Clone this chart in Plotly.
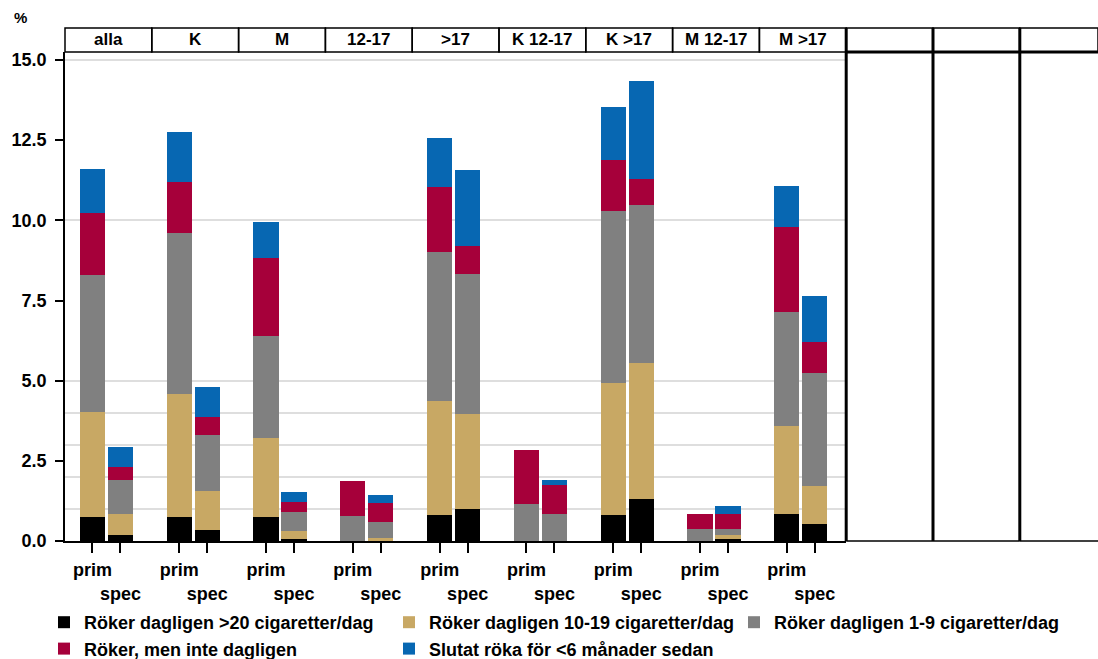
import plotly.graph_objects as go

# panel headers and bar categories
groups = ["alla", "K", "M", "12-17", ">17", "K 12-17", "K >17", "M 12-17", "M >17"]
bar_labels = ["prim", "spec"]
n_empty = 3

series_names = [
    "Röker dagligen >20 cigaretter/dag",
    "Röker dagligen 10-19 cigaretter/dag",
    "Röker dagligen 1-9 cigaretter/dag",
    "Röker, men inte dagligen",
    "Slutat röka för <6 månader sedan",
]
series_colors = ["#000000", "#C8A864", "#808080", "#A6003A", "#0767B2"]

# values (%) per group, prim and spec
over20_prim = [0.75, 0.75, 0.74, 0.0, 0.81, 0.0, 0.81, 0.0, 0.83]
over20_spec = [0.19, 0.34, 0.07, 0.0, 0.99, 0.0, 1.30, 0.05, 0.53]
c10_19_prim = [3.26, 3.82, 2.48, 0.0, 3.56, 0.0, 4.11, 0.0, 2.76]
c10_19_spec = [0.64, 1.23, 0.24, 0.08, 2.97, 0.0, 4.24, 0.15, 1.18]
c1_9_prim = [4.28, 5.04, 3.18, 0.78, 4.63, 1.15, 5.36, 0.36, 3.54]
c1_9_spec = [1.07, 1.73, 0.58, 0.50, 4.36, 0.85, 4.93, 0.18, 3.54]
notdaily_prim = [1.93, 1.59, 2.43, 1.10, 2.05, 1.68, 1.59, 0.49, 2.66]
notdaily_spec = [0.42, 0.56, 0.34, 0.61, 0.88, 0.89, 0.82, 0.45, 0.96]
quit_prim = [1.37, 1.55, 1.12, 0.0, 1.51, 0.0, 1.67, 0.0, 1.27]
quit_spec = [0.60, 0.94, 0.31, 0.24, 2.37, 0.17, 3.05, 0.27, 1.43]

prim_vals = [over20_prim, c10_19_prim, c1_9_prim, notdaily_prim, quit_prim]
spec_vals = [over20_spec, c10_19_spec, c1_9_spec, notdaily_spec, quit_spec]

W, H = 1098, 659
ml, mt, mb = 65, 52, 118
plot_w = W - ml
plot_h = H - mt - mb
panel_px = 86.8
n_panels = len(groups) + n_empty
font = "Liberation Sans, Arial, sans-serif"

fig = go.Figure()

for i in range(n_panels):
    ax = "" if i == 0 else str(i + 1)
    if i >= len(groups):
        # empty panel, keeps the axis alive
        fig.add_trace(go.Bar(x=bar_labels, y=[None, None], showlegend=False,
                             hoverinfo="skip", xaxis="x" + ax, yaxis="y" + ax))
        continue
    for s in range(len(series_names)):
        fig.add_trace(go.Bar(
            x=bar_labels,
            y=[prim_vals[s][i], spec_vals[s][i]],
            name=series_names[s],
            legendgroup=series_names[s],
            showlegend=(i == 0),
            marker=dict(color=series_colors[s], line=dict(width=0)),
            xaxis="x" + ax, yaxis="y" + ax,
        ))

layout = {}
for i in range(n_panels):
    key = "" if i == 0 else str(i + 1)
    d0 = i * panel_px / plot_w
    d1 = min(1.0, (i + 1) * panel_px / plot_w)
    is_data = i < len(groups)
    layout["xaxis" + key] = dict(
        domain=[d0, d1], anchor="y" + key,
        type="category", range=[-0.98, 2.12],
        showline=is_data, linecolor="black", linewidth=1.5,
        ticks="outside" if is_data else "", ticklen=10, tickwidth=1.5, tickcolor="black",
        tickmode="array", tickvals=bar_labels, ticktext=["prim", "<br>spec"],
        showticklabels=is_data, tickangle=0, automargin=False,
        ticklabelstandoff=2,
        tickfont=dict(family=font, size=18, color="black", weight="bold"),
        showgrid=False, zeroline=False, fixedrange=True,
    )
    ydict = dict(
        domain=[0, 1], anchor="x" + key, range=[0, 15.25], automargin=False,
        showgrid=False, zeroline=False, fixedrange=True,
        minor=dict(tickmode="array", tickvals=[0, 1, 2, 3, 4, 5, 10, 15],
                   showgrid=is_data, gridcolor="#DEDEDE", gridwidth=1.5, ticks=""),
    )
    if i == 0:
        ydict.update(
            tickmode="array", tickvals=[0, 2.5, 5, 7.5, 10, 12.5, 15],
            tickformat=".1f", ticks="outside", ticklen=8, tickwidth=1.5, tickcolor="black",
            showline=True, linecolor="black", linewidth=1.5, ticklabelstandoff=5,
            tickfont=dict(family=font, size=18, color="black", weight="bold"),
        )
    else:
        ydict.update(matches="y", showticklabels=False, showline=False, ticks="")
    layout["yaxis" + key] = ydict

shapes = []
annotations = []
hh = 24 / plot_h
for i in range(n_panels):
    key = "" if i == 0 else str(i + 1)
    shapes.append(dict(type="rect", xref="x" + key + " domain", yref="paper",
                       x0=0, x1=1, y0=1, y1=1 + hh,
                       line=dict(color="black", width=1.5), layer="above"))
    if i < len(groups):
        annotations.append(dict(text=groups[i], xref="x" + key + " domain", yref="paper",
                                x=0.5, y=1 + hh / 2, yanchor="middle", showarrow=False,
                                font=dict(family=font, size=17, color="black", weight="bold")))
    else:
        # empty panel frame
        shapes.append(dict(type="line", xref="x" + key + " domain", yref="paper",
                           x0=0, x1=0, y0=0, y1=1 + hh,
                           line=dict(color="black", width=3), layer="above"))
        shapes.append(dict(type="line", xref="x" + key + " domain", yref="paper",
                           x0=0, x1=1, y0=1, y1=1,
                           line=dict(color="black", width=3), layer="above"))
        shapes.append(dict(type="line", xref="x" + key + " domain", yref="paper",
                           x0=0, x1=1, y0=0, y1=0,
                           line=dict(color="black", width=1.5), layer="above"))

annotations.append(dict(text="%", xref="paper", yref="paper", x=-53 / plot_w, y=(H - mb - 17) / plot_h,
                        xanchor="left", yanchor="middle", showarrow=False,
                        font=dict(family=font, size=15, color="black", weight="bold")))

fig.update_layout(
    **layout,
    barmode="stack",
    bargap=0.1,
    width=W, height=H,
    margin=dict(l=ml, r=0, t=mt, b=mb, pad=0, autoexpand=False),
    paper_bgcolor="white", plot_bgcolor="white",
    shapes=shapes, annotations=annotations,
    font=dict(family=font, color="black"),
    legend=dict(orientation="h", x=-21 / plot_w, xanchor="left",
                y=-63 / plot_h, yanchor="top",
                entrywidth=300, entrywidthmode="pixels",
                font=dict(family=font, size=18, color="black", weight="bold"),
                itemwidth=30, tracegroupgap=0),
)

fig.write_html("out.html", config={"displayModeBar": False},
               post_script="document.body.style.margin = '0';")
